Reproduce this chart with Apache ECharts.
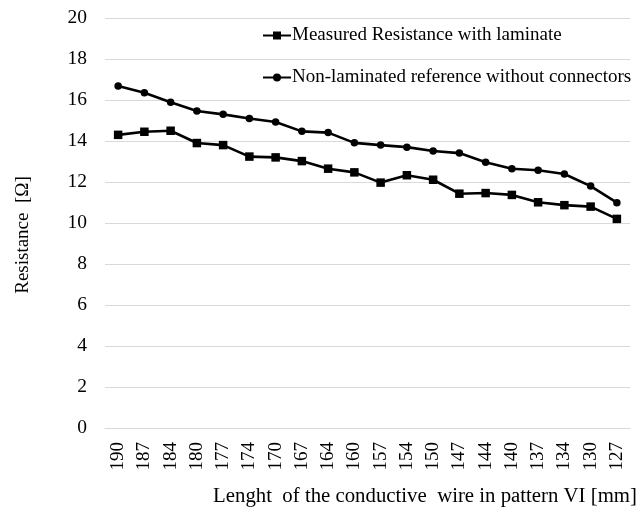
<!DOCTYPE html>
<html>
<head>
<meta charset="utf-8">
<script src="https://cdn.jsdelivr.net/npm/echarts@6/dist/echarts.min.js"></script>
<style>html,body{margin:0;padding:0;background:#fff;}#c{width:636px;height:510px;}</style>
</head>
<body>
<div id="c"></div>
<script>
const categories = ['190','187','184','180','177','174','170','167','164','160','157','154','150','147','144','140','137','134','130','127'];
const laminated = [14.3,14.45,14.5,13.9,13.8,13.24,13.2,13.02,12.65,12.47,11.97,12.33,12.11,11.43,11.46,11.37,11.01,10.87,10.8,10.2];
const reference = [16.68,16.35,15.89,15.46,15.3,15.1,14.93,14.47,14.41,13.91,13.8,13.7,13.51,13.41,12.96,12.65,12.57,12.39,11.8,10.99];
const yTicks = {min:0, max:20, interval:2};
const seriesNames = ['Measured Resistance with laminate','Non-laminated reference without connectors'];
const xTitle = 'Lenght  of the conductive  wire in pattern VI [mm]';
const yTitle = 'Resistance  [Ω]';

const font = '"Liberation Serif","Times New Roman",serif';
const chart = echarts.init(document.getElementById('c'), null, {renderer:'canvas'});
chart.setOption({
  animation:false,
  backgroundColor:'#fff',
  grid:{left:105, right:6, top:18, bottom:82, containLabel:false},
  legend:{
    orient:'vertical', left:262, top:26, padding:0, itemGap:23, itemWidth:28, itemHeight:10,
    textStyle:{fontFamily:font, fontSize:19, color:'#000', padding:[0,0,0,-4]},
    data:seriesNames
  },
  xAxis:{
    type:'category', data:categories, boundaryGap:true,
    axisLine:{show:true, lineStyle:{color:'#d9d9d9', width:1}},
    axisTick:{show:false},
    axisLabel:{rotate:90, margin:14, fontFamily:font, fontSize:19, color:'#000', interval:0}
  },
  yAxis:{
    type:'value', min:yTicks.min, max:yTicks.max, interval:yTicks.interval,
    axisLine:{show:false}, axisTick:{show:false},
    splitLine:{lineStyle:{color:'#d9d9d9', width:1}},
    axisLabel:{margin:18, fontFamily:font, fontSize:19.5, color:'#000'}
  },
  graphic:[
    {type:'text', x:425, y:497, style:{text:xTitle, font:'20.8px '+font, fill:'#000', align:'center', verticalAlign:'middle'}},
    {type:'text', x:23, y:235, rotation:Math.PI/2, style:{text:yTitle, font:'19px '+font, fill:'#000', align:'center', verticalAlign:'middle'}}
  ],
  series:[
    {name:seriesNames[0], type:'line', data:laminated, symbol:'rect', symbolSize:8.5,
     lineStyle:{color:'#000', width:2.6}, itemStyle:{color:'#000'}},
    {name:seriesNames[1], type:'line', data:reference, symbol:'circle', symbolSize:7.5,
     lineStyle:{color:'#000', width:2.6}, itemStyle:{color:'#000'}}
  ]
});
</script>
</body>
</html>
